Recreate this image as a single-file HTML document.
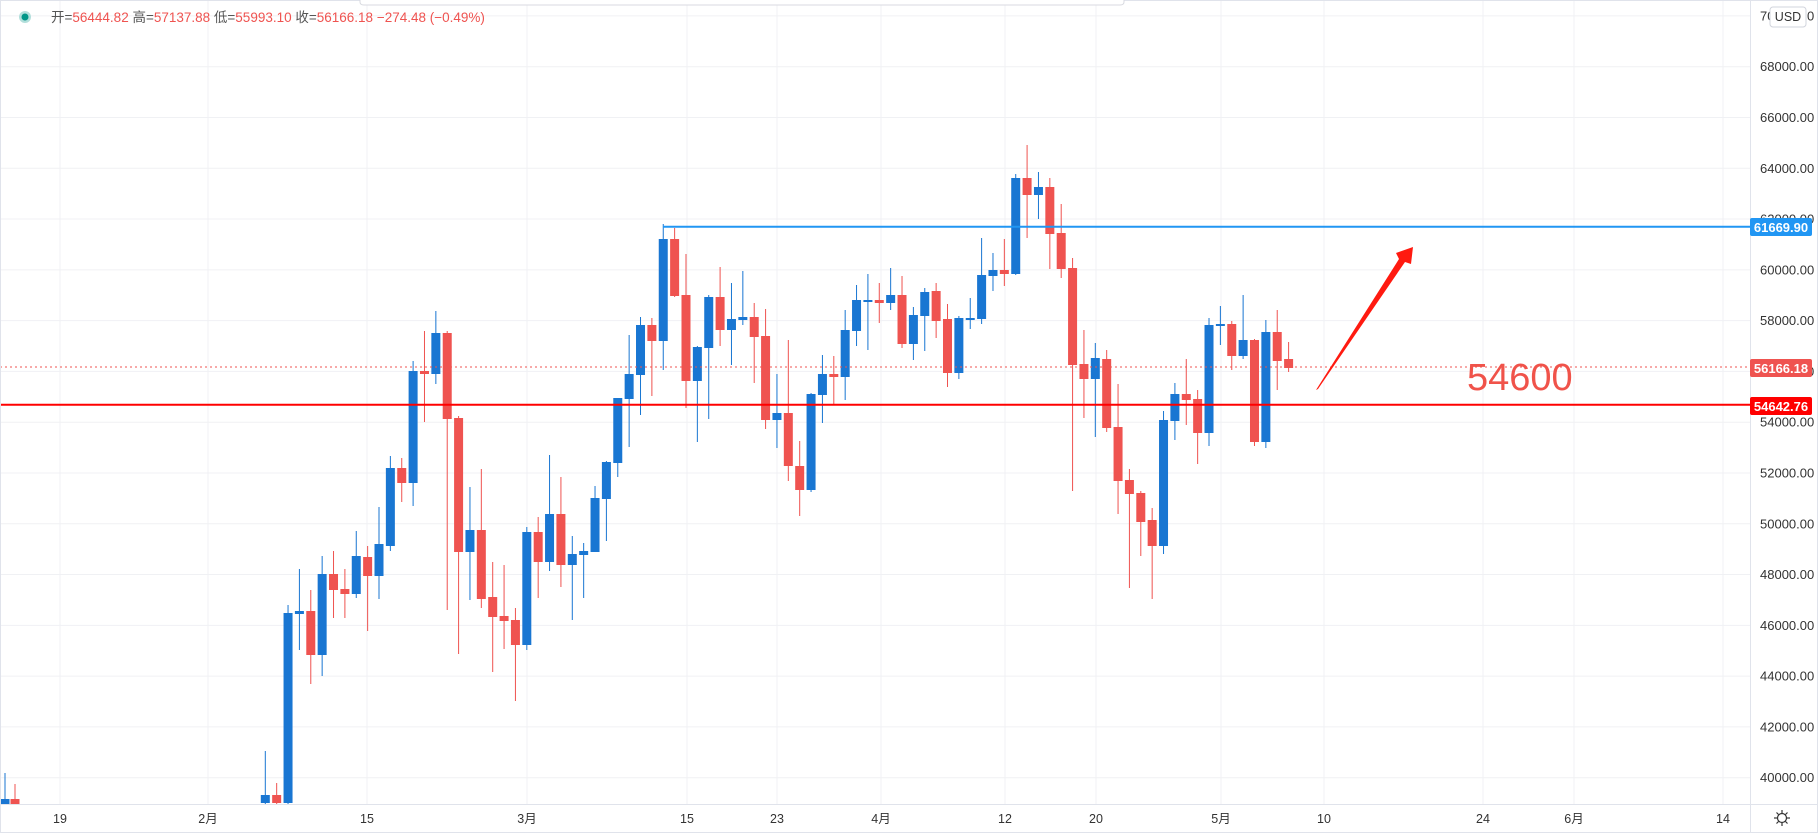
<!DOCTYPE html>
<html><head><meta charset="utf-8"><style>
html,body{margin:0;padding:0;background:#fff;}
body{width:1818px;height:833px;overflow:hidden;font-family:"Liberation Sans","Noto Sans CJK SC",sans-serif;}
svg{display:block}
</style></head><body>
<svg id="s" width="1818" height="833" xmlns="http://www.w3.org/2000/svg" font-family="Liberation Sans, Noto Sans CJK SC, sans-serif">
<rect x="0" y="0" width="1818" height="833" fill="#fff"/>
<g id="grid" stroke="#f0f1f4" stroke-width="1"></g>
<g id="candles"></g>
<!-- lines -->
<line x1="663" y1="226.7" x2="1750" y2="226.7" stroke="#2196f3" stroke-width="2"/>
<line x1="0" y1="404.7" x2="1750" y2="404.7" stroke="#ff0000" stroke-width="2"/>
<line x1="0" y1="367" x2="1750" y2="367" stroke="#ef5350" stroke-width="1" stroke-dasharray="2,3"/>
<!-- arrow -->
<polygon points="1316,390 1399,259 1396,253 1413,247 1411,264 1405,262 1318,389" fill="#ff1a10"/>
<text x="1467" y="390" font-size="38" fill="#f0534a">54600</text>
<!-- axes -->
<line x1="1750.5" y1="0" x2="1750.5" y2="833" stroke="#e0e3eb"/>
<line x1="0" y1="804.5" x2="1818" y2="804.5" stroke="#e0e3eb"/>
<rect x="0.5" y="0.5" width="1817" height="832" fill="none" stroke="#e0e3eb"/>
<g id="ylab" font-size="13" fill="#333"></g>
<g id="xlab" font-size="12.5" fill="#333" text-anchor="middle"></g>
<!-- price labels -->
<rect x="1750" y="218" width="62" height="18" rx="2" fill="#2196f3"/>
<text x="1781" y="232" font-size="13" fill="#fff" text-anchor="middle" font-weight="bold">61669.90</text>
<rect x="1750" y="359" width="62" height="18" rx="2" fill="#ef5350"/>
<text x="1781" y="373" font-size="13" fill="#fff" text-anchor="middle" font-weight="bold">56166.18</text>
<rect x="1750" y="397" width="62" height="18" rx="2" fill="#ff0000"/>
<text x="1781" y="411" font-size="13" fill="#fff" text-anchor="middle" font-weight="bold">54642.76</text>
<!-- USD -->
<rect x="1770" y="7" width="36" height="20" rx="3" fill="#fff" stroke="#d1d4dc"/>
<text x="1788" y="21" font-size="12.5" fill="#333" text-anchor="middle">USD</text>
<!-- gear -->
<g transform="translate(1782,818)" fill="none" stroke="#333" stroke-width="1.2">
<circle r="4.5"/><line x1="0" y1="-8" x2="0" y2="-5"/><line x1="0" y1="8" x2="0" y2="5"/><line x1="-8" y1="0" x2="-5" y2="0"/><line x1="8" y1="0" x2="5" y2="0"/>
<line x1="-5.5" y1="-5.5" x2="-3.5" y2="-3.5"/><line x1="5.5" y1="5.5" x2="3.5" y2="3.5"/><line x1="-5.5" y1="5.5" x2="-3.5" y2="3.5"/><line x1="5.5" y1="-5.5" x2="3.5" y2="-3.5"/>
</g>
<!-- top popover edge -->
<path d="M360,0 L360,2 Q360,5 364,5 L1120,5 Q1124,5 1124,2 L1124,0" fill="#fff" stroke="#d8dae0"/>
<!-- header -->
<circle cx="25" cy="17" r="6" fill="#b2dfdb"/><circle cx="25" cy="17" r="3.5" fill="#009688"/>
<text x="51" y="22" font-size="13.5" fill="#555">开=<tspan fill="#ef5350">56444.82</tspan> 高=<tspan fill="#ef5350">57137.88</tspan> 低=<tspan fill="#ef5350">55993.10</tspan> 收=<tspan fill="#ef5350">56166.18</tspan> <tspan fill="#ef5350">−274.48 (−0.49%)</tspan></text>
</svg>
<script>
var NS="http://www.w3.org/2000/svg";
function el(p,t,a,txt){var e=document.createElementNS(NS,t);for(var k in a)e.setAttribute(k,a[k]);if(txt!=null)e.textContent=txt;p.appendChild(e);return e;}
var grid=document.getElementById('grid'),yl=document.getElementById('ylab'),xl=document.getElementById('xlab');
function Y(p){return 422.2-(p-54000)*0.025393;}
for(var p=40000;p<=70000;p+=2000){var y=Y(p);el(grid,'line',{x1:0,y1:y,x2:1750,y2:y});el(yl,'text',{x:1760,y:y+4.5},p+'.00');}
var xs=[[60,'19'],[208,'2月'],[367,'15'],[527,'3月'],[687,'15'],[777,'23'],[881,'4月'],[1005,'12'],[1096,'20'],[1221,'5月'],[1324,'10'],[1483,'24'],[1574,'6月'],[1723,'14']];
xs.forEach(function(d){el(grid,'line',{x1:d[0],y1:0,x2:d[0],y2:804});el(xl,'text',{x:d[0],y:823},d[1]);});
var B='#1976d2',R='#ef5350';
var c=[
['b',795,803,751,804],['r',795,803,783,804],['b',613,803,605,804],['b',611,614,569,650],['r',611,655,590,684],
['b',574,655,556,676],['r',574,590,551,618],['r',589,594,569,618],['b',556,594,531,598],['r',557,576,546,631],
['b',544,576,507,599],['b',468,546,456,551],['r',468,483,458,502],['b',371,483,361,506],['r',371,374,331,422],
['b',333,374,311,384],['r',333,419,331,610],['r',418,552,416,654],['b',530,552,487,600],['r',530,599,469,608],
['r',597,617,562,672],['r',616,621,565,649],['r',620,645,608,701],['b',532,645,527,650],['r',532,562,517,598],
['b',514,562,455,571],['r',514,565,477,587],['b',554,565,536,620],['b',551,555,543,598],['b',498,552,486,552],
['b',462,499,461,541],['b',398,463,398,477],['b',374,399,335,447],['b',325,375,317,415],['r',325,341,318,396],
['b',239,341,224,370],['r',239,296,228,297],['r',295,381,254,408],['b',347,381,346,442],['b',297,348,295,419],
['r',297,330,267,346],['b',319,330,283,365],['b',317,320,271,325],['r',317,337,303,383],['r',336,420,309,429],
['b',413,420,374,448],['r',413,466,340,481],['r',466,490,441,516],['b',394,490,393,492],['b',374,395,355,423],
['r',374,377,356,404],['b',330,377,310,400],['b',300,331,285,346],['b',300,301,274,350],['r',300,303,283,323],
['b',295,303,268,310],['r',295,344,276,348],['b',315,344,307,360],['b',292,316,288,351],['r',291,321,283,338],
['r',319,373,304,387],['b',318,373,316,379],['b',318,319,298,329],['b',275,319,238,324],['b',270,276,253,291],
['r',270,274,239,286],['b',178,274,174,275],['r',178,195,145,238],['b',187,195,172,219],['r',187,234,178,269],
['r',233,269,204,278],['r',268,365,258,491],['r',364,379,330,418],['b',358,379,343,437],['r',359,428,350,432],
['r',427,481,384,514],['r',480,494,469,588],['r',493,522,491,556],['r',520,546,508,599],['b',420,546,411,554],
['b',394,421,383,440],['r',394,400,359,425],['r',399,433,390,464],['b',325,433,318,446],['b',324,326,306,345],
['r',324,356,321,370],['b',340,356,295,359],['r',340,442,339,446],['b',332,442,320,448],['r',332,361,310,390],
['r',359,368,342,372]];
var g=document.getElementById('candles');
function draw(x,d){var col=d[0]=='b'?B:R;el(g,'rect',{x:x-0.5,y:d[3],width:1,height:Math.max(1,d[4]-d[3]),fill:col});el(g,'rect',{x:x-4.5,y:d[1],width:9,height:Math.max(2,d[2]-d[1]),fill:col});}
c.forEach(function(d,i){draw(265.3+11.37*i,d);});
draw(5,['b',799,804,773,804]);draw(15,['r',799,804,784,804]);
</script>
</body></html>
